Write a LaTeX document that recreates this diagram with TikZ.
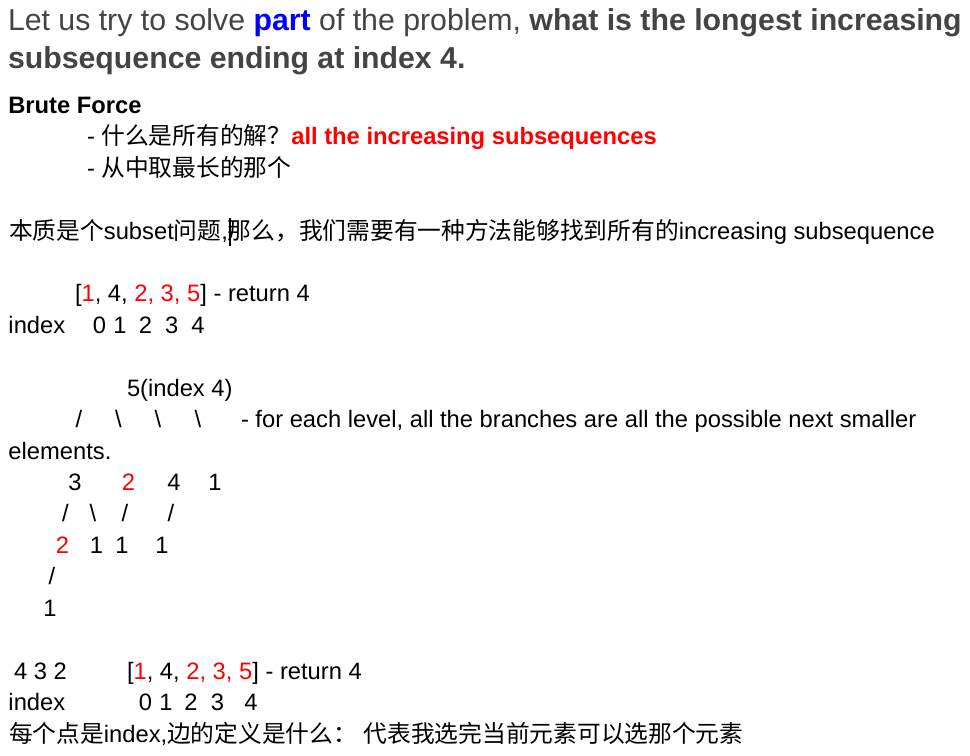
\documentclass[tikz,border=0pt]{standalone}
\usepackage{fontspec}
\setmainfont{Liberation Sans}
\newfontfamily\cjkfnt{Noto Sans CJK SC}
\newcommand\zh[1]{{\cjkfnt #1}}
\newcommand\bodyfnt{\fontsize{17.8pt}{21pt}\selectfont}
\newcommand\titlefnt{\fontsize{22.7pt}{27pt}\selectfont}
\definecolor{tgray}{HTML}{444444}
\definecolor{pblue}{HTML}{0000FF}
\definecolor{rred}{HTML}{FF0000}
\tikzset{
  txt/.style={anchor=base west,inner sep=0pt,outer sep=0pt,font=\bodyfnt,text=black},
  ch/.style={anchor=base,inner sep=0pt,outer sep=0pt,font=\bodyfnt,text=black},
  redch/.style={ch,text=rred},
}
\begin{document}
\begin{tikzpicture}[x=0.75pt,y=-0.75pt]
\useasboundingbox (0,0) rectangle (970,756);
\fill[white] (0,0) rectangle (970,756);
% title
\node[txt,font=\titlefnt,text=tgray] (t1) at (8,31) {Let us try to solve \textcolor{pblue}{\bfseries part} of the problem, \textbf{what is the longest increasing}};
\node[txt,font=\titlefnt\bfseries,text=tgray] (t2) at (8,68.5) {subsequence ending at index 4.};
% brute force
\node[txt,font=\bodyfnt\bfseries] (bf) at (8.3,113.5) {Brute Force};
\node[txt] (q1) at (87,145) {- \zh{什么是所有的解？}\textcolor{rred}{\bfseries all the increasing subsequences}};
\node[txt] (q2) at (87,176.5) {- \zh{从中取最长的那个}};
\node[txt] (ess) at (9,239) {\zh{本质是个}subset\zh{问题},\zh{那么，我们需要有一种方法能够找到所有的}increasing subsequence};
\fill[black] (228.5,218) rectangle (231,246);
% first array
\node[txt] (arr1) at (75,301.7) {[\textcolor{rred}{1}, 4, \textcolor{rred}{2, 3, 5}] - return 4};
\node[txt] (idx1) at (8.5,333.2) {index};
\node[ch] (i1a) at (99.5,333.2) {0};
\node[ch] (i1b) at (120,333.2) {1};
\node[ch] (i1c) at (145.5,333.2) {2};
\node[ch] (i1d) at (171.7,333.2) {3};
\node[ch] (i1e) at (198,333.2) {4};
% tree
\node[txt] (root) at (127,396) {5(index 4)};
\node[ch] (s1a) at (79,427.5) {/};
\node[ch] (s1b) at (118.5,427.5) {\textbackslash};
\node[ch] (s1c) at (158,427.5) {\textbackslash};
\node[ch] (s1d) at (198,427.5) {\textbackslash};
\node[txt] (note) at (241,427.5) {- for each level, all the branches are all the possible next smaller};
\node[txt] (note2) at (8.5,459) {elements.};
\node[ch] (n3) at (75,490.4) {3};
\node[redch] (n2) at (128.5,490.4) {2};
\node[ch] (n4) at (174,490.4) {4};
\node[ch] (n1) at (215,490.4) {1};
\node[ch] (s2a) at (65.5,521.9) {/};
\node[ch] (s2b) at (93,521.9) {\textbackslash};
\node[ch] (s2c) at (125,521.9) {/};
\node[ch] (s2d) at (171,521.9) {/};
\node[redch] (m2) at (62.5,553.3) {2};
\node[ch] (m1a) at (96.5,553.3) {1};
\node[ch] (m1b) at (122,553.3) {1};
\node[ch] (m1c) at (162,553.3) {1};
\node[ch] (s3a) at (52,584.8) {/};
\node[ch] (l1) at (50,616.2) {1};
% second array
\node[txt] (seq) at (14,679.1) {4 3 2};
\node[txt] (arr2) at (127,679.1) {[\textcolor{rred}{1}, 4, \textcolor{rred}{2, 3, 5}] - return 4};
\node[txt] (idx2) at (8.5,710.6) {index};
\node[ch] (i2a) at (145.5,710.6) {0};
\node[ch] (i2b) at (166,710.6) {1};
\node[ch] (i2c) at (191,710.6) {2};
\node[ch] (i2d) at (217.5,710.6) {3};
\node[ch] (i2e) at (251,710.6) {4};
\node[txt] (last) at (9,742) {\zh{每个点是}index,\zh{边的定义是什么：} \zh{代表我选完当前元素可以选那个元素}};
\end{tikzpicture}
\end{document}
